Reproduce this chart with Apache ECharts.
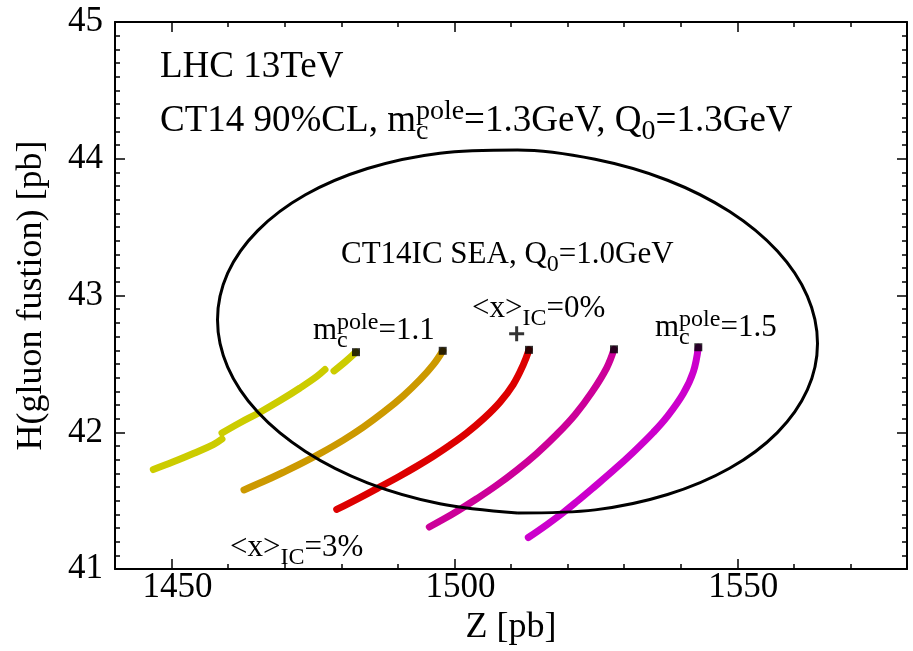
<!DOCTYPE html>
<html><head><meta charset="utf-8">
<script src="https://cdn.jsdelivr.net/npm/echarts@6/dist/echarts.min.js"></script>
<style>html,body{margin:0;padding:0;background:#fff}#c{width:913px;height:651px}</style>
</head><body><div id="c"></div>
<script>
// ---- data (Z [pb], H [pb]) ----
const zMajorTicks = [1450, 1500, 1550];
// CT14 90% CL contour
const ellipseCL90 = [
  [1511.15,41.410],[1497.43,41.478],[1484.63,41.631],[1473.66,41.860],[1465.23,42.148],[1459.92,42.477],
  [1458.12,42.823],[1459.92,43.164],[1465.23,43.475],[1473.66,43.737],[1484.63,43.929],[1497.43,44.041],
  [1511.15,44.064],[1524.87,43.996],[1537.67,43.843],[1548.64,43.614],[1557.08,43.325],[1562.38,42.996],
  [1564.18,42.650],[1562.38,42.310],[1557.08,41.998],[1548.64,41.737],[1537.67,41.545],[1524.87,41.433],
  [1511.15,41.410]
];
// CT14IC SEA scans, <x>_IC from 3% (first point) to 0% (last point)
const icMc11a = [[1446.77,41.728],[1450.31,41.784],[1453.84,41.845],[1457.38,41.910],[1458.91,41.951]];
const icMc11b = [[1458.91,41.995],[1462.10,42.070],[1465.63,42.147],[1469.17,42.232],[1472.70,42.324],
  [1475.66,42.408],[1477.12,42.459]];
const icMc11c = [[1478.71,42.449],[1480.66,42.514],[1482.60,42.586]];
const icMc12 = [[1462.80,41.579],[1466.22,41.640],[1469.75,41.708],[1473.29,41.780],[1476.82,41.858],
  [1480.36,41.943],[1483.89,42.038],[1487.43,42.146],[1490.96,42.267],[1493.92,42.385],[1496.27,42.495],
  [1497.93,42.596]];
const icMc13 = [[1479.19,41.436],[1483.31,41.523],[1487.37,41.613],[1490.38,41.681],[1493.33,41.751],
  [1496.27,41.825],[1499.22,41.906],[1502.17,41.995],[1505.11,42.098],[1508.06,42.221],[1510.41,42.351],
  [1512.18,42.495],[1513.18,42.603]];
const icMc14 = [[1495.56,41.308],[1498.03,41.364],[1500.69,41.429],[1503.94,41.514],[1507.47,41.613],
  [1511.01,41.723],[1514.54,41.845],[1518.08,41.984],[1521.32,42.129],[1524.27,42.292],[1526.92,42.472],
  [1528.21,42.607]];
const icMc15 = [[1513.06,41.231],[1516.31,41.324],[1519.25,41.414],[1521.62,41.493],[1524.55,41.595],
  [1528.09,41.721],[1531.62,41.855],[1535.16,42.000],[1537.53,42.111],[1540.46,42.284],[1542.23,42.443],
  [1543.11,42.622]];
const ct14Central = [1511.0, 42.72];
const curveColors = ['#cccc00', '#cc9900', '#dd0000', '#cc0099', '#cc00cc'];

// ---- chart ----
const F = 'Liberation Serif';
function richSet(size) {
  const s = Math.round(size * 0.76);
  const base = {fontFamily: F, color: '#000'};
  return {
    n: Object.assign({fontSize: size, lineHeight: size}, base),
    sup: Object.assign({fontSize: s, lineHeight: s, padding: [0, 0, Math.round(size * 0.5), 0]}, base),
    sub: Object.assign({fontSize: s, lineHeight: s, padding: [Math.round(size * 0.6), 0, 0, 0]}, base),
    subz: Object.assign({fontSize: s, lineHeight: s, width: 0, padding: [Math.round(size * 0.6), 0, 0, 0]}, base)
  };
}
const RBig = richSet(37), RSmall = richSet(31);
function txt(x, y, text, rich) {
  return {type: 'text', x: x, y: y, z: 100, silent: true,
    style: {text: text, rich: rich, align: 'left', verticalAlign: 'middle'}};
}
function curve(data, color) {
  return {type: 'line', data: data, smooth: 0.4, symbol: 'none', silent: true, z: 3,
    lineStyle: {color: color, width: 7, cap: 'round'}};
}
const axisLineStyle = {color: '#000', width: 2};
const tickStyle = {color: '#000', width: 1.5};
const tickFont = {fontFamily: F, fontSize: 35, color: '#000'};
const nameFont = {fontFamily: F, fontSize: 36, color: '#000'};
const xBase = {type: 'value', min: 1440, max: 1580, splitLine: {show: false}};
const yBase = {type: 'value', min: 41, max: 45, interval: 1, splitLine: {show: false}};

const option = {
  animation: false,
  backgroundColor: '#fff',
  grid: {left: 115, right: 6, top: 22, bottom: 74, containLabel: false},
  xAxis: [
    Object.assign({}, xBase, {position: 'bottom', interval: 10,
      axisLine: {lineStyle: axisLineStyle},
      axisTick: {inside: true, length: 5, lineStyle: tickStyle},
      axisLabel: Object.assign({margin: 1, padding: [0, 0, 0, 12],
        formatter: v => (Math.round(v) % 50 === 0 ? String(Math.round(v)) : '')}, tickFont),
      name: 'Z [pb]', nameLocation: 'middle', nameGap: 35, nameTextStyle: nameFont}),
    Object.assign({}, xBase, {position: 'bottom',
      axisLine: {show: false},
      axisTick: {inside: true, length: 10, customValues: zMajorTicks, lineStyle: tickStyle},
      axisLabel: {show: false}}),
    Object.assign({}, xBase, {position: 'top', interval: 10,
      axisLine: {lineStyle: axisLineStyle},
      axisTick: {inside: true, length: 5, lineStyle: tickStyle},
      axisLabel: {show: false}}),
    Object.assign({}, xBase, {position: 'top',
      axisLine: {show: false},
      axisTick: {inside: true, length: 10, customValues: zMajorTicks, lineStyle: tickStyle},
      axisLabel: {show: false}})
  ],
  yAxis: [
    Object.assign({}, yBase, {position: 'left',
      axisLine: {lineStyle: axisLineStyle},
      axisTick: {inside: true, length: 10, lineStyle: tickStyle},
      minorTick: {show: true, splitNumber: 10, length: 5, lineStyle: tickStyle},
      minorSplitLine: {show: false},
      axisLabel: Object.assign({margin: 12, padding: [6, 0, 0, 0]}, tickFont),
      name: 'H(gluon fustion) [pb]', nameLocation: 'middle', nameGap: 65, nameTextStyle: nameFont}),
    Object.assign({}, yBase, {position: 'right',
      axisLine: {lineStyle: axisLineStyle},
      axisTick: {inside: true, length: 10, lineStyle: tickStyle},
      minorTick: {show: true, splitNumber: 10, length: 5, lineStyle: tickStyle},
      minorSplitLine: {show: false},
      axisLabel: {show: false}})
  ],
  series: [
    curve(icMc11a, curveColors[0]),
    curve(icMc11b, curveColors[0]),
    curve(icMc11c, curveColors[0]),
    curve(icMc12, curveColors[1]),
    curve(icMc13, curveColors[2]),
    curve(icMc14, curveColors[3]),
    curve(icMc15, curveColors[4]),
    {type: 'line', data: ellipseCL90, smooth: 0.34, symbol: 'none', silent: true, z: 4,
      lineStyle: {color: '#000', width: 3}},
    {type: 'scatter', silent: true, z: 5, symbol: 'rect', symbolSize: 8, itemStyle: {color: '#000'},
      data: [icMc11c, icMc12, icMc13, icMc14, icMc15].map(c => c[c.length - 1])},
    {type: 'scatter', silent: true, z: 5, symbol: 'path://M4,0H6V4H10V6H6V10H4V6H0V4H4Z', symbolSize: 15,
      itemStyle: {color: '#000'}, data: [ct14Central]}
  ],
  graphic: [
    txt(160, 67, '{n|LHC 13TeV}', RBig),
    txt(160, 121, '{n|CT14 90%CL, m}{subz|c}{sup|pole}{n|=1.3GeV, Q}{sub|0}{n|=1.3GeV}', RBig),
    txt(341, 255, '{n|CT14IC SEA, Q}{sub|0}{n|=1.0GeV}', RSmall),
    txt(472, 309, '{n|<x>}{sub|IC}{n|=0%}', RSmall),
    txt(313, 331, '{n|m}{subz|c}{sup|pole}{n|=1.1}', RSmall),
    txt(655, 328, '{n|m}{subz|c}{sup|pole}{n|=1.5}', RSmall),
    txt(230, 548, '{n|<x>}{sub|IC}{n|=3%}', RSmall)
  ]
};
const chart = echarts.init(document.getElementById('c'), null, {renderer: 'canvas'});
chart.setOption(option);
</script></body></html>
